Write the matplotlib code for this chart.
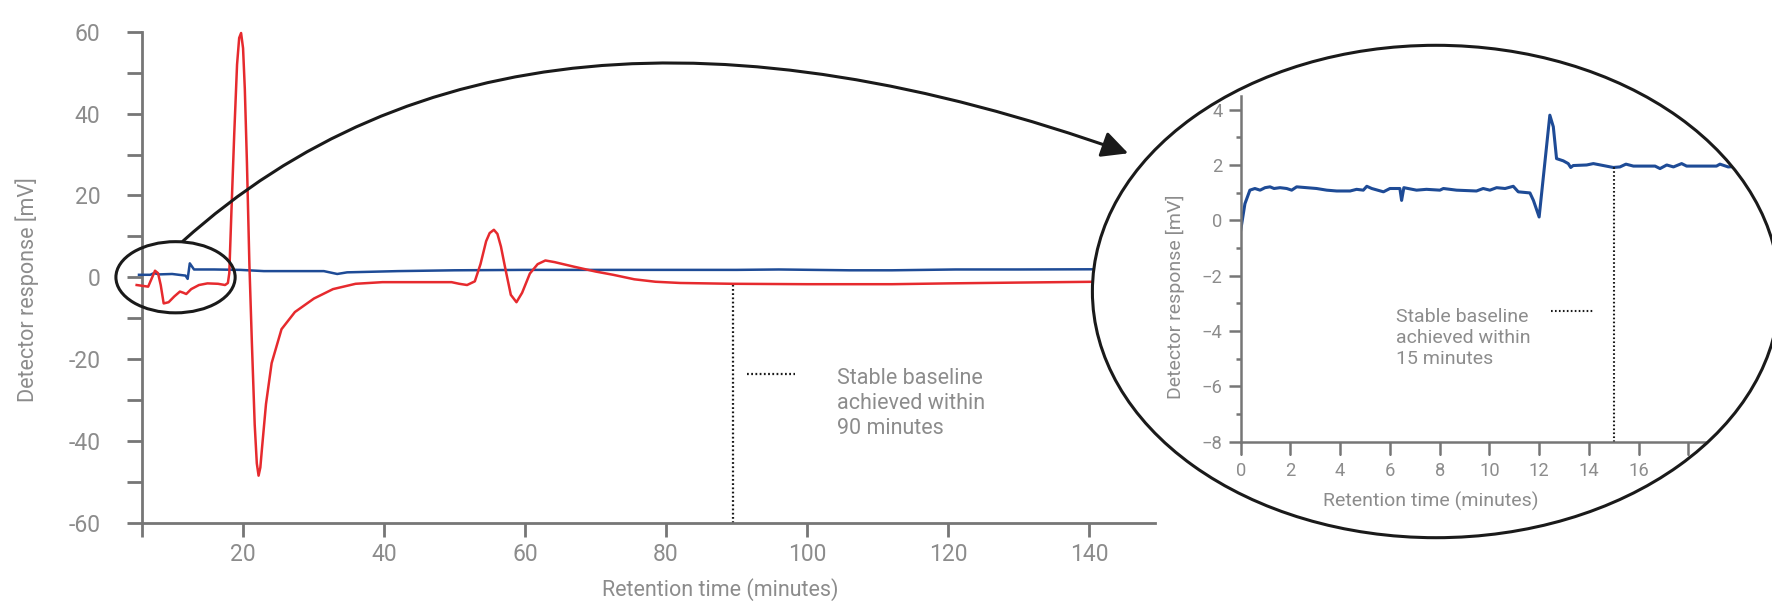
import numpy as np
import matplotlib
matplotlib.use("Agg")
import matplotlib.pyplot as plt
from matplotlib.patches import Ellipse, FancyArrowPatch
from matplotlib.path import Path

plt.rcParams['font.family'] = ['Roboto', 'DejaVu Sans']
plt.rcParams['font.weight'] = 'normal'

# --- DATA ---
# main chromatogram, red trace (retention time [min], response [mV])
red_t = [4.97, 5.8, 6.6, 7.05, 7.57, 8.0, 8.38, 8.8, 9.5, 10.3,
         11.1, 11.6, 12.0, 12.7, 13.8, 15.0, 16.5, 17.5, 17.9, 18.1,
         18.4, 18.8, 19.2, 19.5, 19.77, 20.05, 20.3, 20.6, 20.95, 21.3,
         21.7, 22.0, 22.25, 22.5, 22.75, 23.3, 24.1, 25.5, 27.4, 30.1,
         32.8, 36.0, 39.8, 45.3, 49.6, 50.7, 51.8, 52.9, 53.7, 54.5,
         55.0, 55.6, 56.1, 56.6, 57.2, 58.0, 58.8, 59.6, 60.7, 61.8,
         62.9, 64.2, 66.9, 70.0, 72.5, 75.5, 78.5, 82.0, 89.5, 100.0,
         112.0, 120.0, 130.0, 141.0, 150.0]
red_v = [-1.9, -2.1, -2.3, -0.5, 1.6, 1.0, -1.9, -6.4, -6.1, -4.7,
         -3.5, -3.8, -4.1, -2.9, -1.9, -1.5, -1.6, -1.9, -1.4, 1.0,
         16.0, 35.0, 52.0, 58.5, 59.7, 56.0, 46.0, 28.0, 3.0, -16.0,
         -36.0, -45.5, -48.5, -46.5, -41.5, -31.0, -21.0, -12.7, -8.5, -5.2,
         -2.9, -1.6, -1.2, -1.2, -1.2, -1.6, -1.9, -1.0, 3.2, 8.8,
         10.8, 11.6, 10.6, 7.5, 2.3, -4.3, -6.1, -3.8, 0.9, 3.2,
         4.1, 3.7, 2.6, 1.4, 0.6, -0.5, -1.1, -1.4, -1.6, -1.7,
         -1.7, -1.5, -1.3, -1.1, -1.0]

# main chromatogram, blue trace
blue_t = [5.3, 6.9, 7.4, 8.2, 10.0, 11.9, 12.2, 12.5, 13.1, 16.0,
          19.7, 23.0, 31.5, 33.4, 34.8, 42.0, 50.0, 60.0, 70.0, 80.0,
          90.0, 96.0, 106.0, 112.0, 121.0, 130.0, 141.0, 150.0]
blue_v = [0.6, 0.6, 1.0, 0.7, 0.8, 0.4, -0.4, 3.4, 1.9, 1.9,
          1.8, 1.5, 1.5, 0.8, 1.2, 1.5, 1.7, 1.8, 1.8, 1.8,
          1.8, 1.9, 1.7, 1.7, 1.9, 1.9, 1.95, 1.95]

# zoomed view of the blue trace (first 20 minutes)
inset_t = [0.0, 0.17, 0.37, 0.57, 0.78, 0.98, 1.18, 1.34, 1.58, 1.85,
           2.05, 2.25, 2.65, 3.05, 3.46, 3.86, 4.4, 4.66, 4.93, 5.07,
           5.27, 5.74, 6.0, 6.4, 6.47, 6.56, 7.07, 7.47, 8.01, 8.15,
           8.68, 9.48, 9.75, 10.02, 10.29, 10.63, 10.96, 11.16, 11.63, 11.77,
           12.0, 12.43, 12.57, 12.7, 12.97, 13.17, 13.27, 13.37, 13.91, 14.18,
           14.98, 15.25, 15.49, 15.79, 16.66, 16.86, 17.13, 17.4, 17.73, 17.93,
           19.13, 19.27, 19.6, 20.0]
inset_v = [-0.36, 0.60, 1.09, 1.15, 1.09, 1.18, 1.21, 1.15, 1.18, 1.15,
           1.09, 1.21, 1.18, 1.15, 1.09, 1.06, 1.06, 1.12, 1.09, 1.23,
           1.15, 1.03, 1.15, 1.15, 0.72, 1.18, 1.09, 1.12, 1.09, 1.15,
           1.09, 1.06, 1.15, 1.09, 1.18, 1.15, 1.23, 1.03, 0.99, 0.72,
           0.12, 3.80, 3.38, 2.23, 2.15, 2.05, 1.91, 1.98, 2.00, 2.05,
           1.91, 1.93, 2.03, 1.96, 1.96, 1.87, 2.00, 1.93, 2.05, 1.96,
           1.96, 2.03, 1.93, 1.95]

main_xticks = [20, 40, 60, 80, 100, 120, 140]
main_yticks = list(range(-60, 61, 10))
inset_xticks = list(range(0, 19, 2))
inset_yticks = list(range(-8, 5, 2))
inset_yminor = list(range(-7, 4, 2))

STABLE_MAIN = 89.5    # min
STABLE_INSET = 15.0   # min
XLABEL = "Retention time (minutes)"
YLABEL = "Detector response [mV]"

# --- STYLE ---
RED = '#e62a2e'
BLUE = '#1e4b96'
AXIS = '#767676'
TEXT = '#8c8c8c'
INK = '#1a1a1a'
DOTS = (0, (0.8, 1.1))

W, H = 1772, 601
fig = plt.figure(figsize=(W / 100, H / 100), dpi=100)

# --- MAIN CHART ---
ax = fig.add_axes([142.3 / W, 1 - 522.7 / H, (1155 - 142.3) / W, (522.7 - 31.8) / H])
ax.set_xlim(5.77, 149.3)
ax.set_ylim(-60, 60)
for s in ('top', 'right'):
    ax.spines[s].set_visible(False)
for s in ('left', 'bottom'):
    ax.spines[s].set_color(AXIS)
    ax.spines[s].set_linewidth(2)

ax.set_xticks([5.77] + main_xticks)
ax.set_xticklabels([''] + [str(v) for v in main_xticks])
ax.set_yticks(main_yticks)
ax.set_yticklabels([str(v) if v % 20 == 0 else '' for v in main_yticks])
ax.tick_params(axis='y', length=10.8, width=2, color=AXIS, pad=19.5,
               labelsize=16.5, labelcolor=TEXT)
ax.tick_params(axis='x', length=10, width=2, color=AXIS, pad=4.5,
               labelsize=16.5, labelcolor=TEXT)

ax.plot(blue_t, blue_v, color=BLUE, lw=1.8, clip_on=False, zorder=3)
ax.plot(red_t, red_v, color=RED, lw=1.8, clip_on=False, zorder=4)

red_at_stable = np.interp(STABLE_MAIN, red_t, red_v)
ax.plot([STABLE_MAIN, STABLE_MAIN], [-60, red_at_stable], color=INK, lw=1.6, ls=DOTS)
ax.plot([91.5, 98.3], [-23.6, -23.6], color=INK, lw=1.6, ls=DOTS)
ax.text(104.2, -30.9, "Stable baseline\nachieved within\n90 minutes",
        ha='left', va='center', fontsize=15.5, color=TEXT, linespacing=1.25)

# circle around the start of the run + connector arrow
ax.add_patch(Ellipse((10.48, 0), 16.9, 17.4, fill=False, ec=INK, lw=2.2,
                     clip_on=False, zorder=5))
arc = Path([(11.54, 8.85), (59.4, 83.2), (145.5, 30.3)],
           [Path.MOVETO, Path.CURVE3, Path.CURVE3])
ax.add_patch(FancyArrowPatch(path=arc, arrowstyle='-|>,head_length=0.4,head_width=0.2',
                             mutation_scale=40, color=INK, lw=2.2,
                             clip_on=False, zorder=5))

fig.text(26.8 / W, 1 - 290 / H, YLABEL, rotation=90, ha='center', va='center',
         fontsize=15.5, color=TEXT)
fig.text(720 / W, 1 - 590 / H, XLABEL, ha='center', va='center',
         fontsize=15.5, color=TEXT)

# --- ZOOM BUBBLE ---
bubble = dict(xy=(1436 / W, 1 - 291.5 / H), width=687.2 / W, height=492.4 / H,
              transform=fig.transFigure)
bubble_fill = Ellipse(fc='white', ec='none', zorder=1, **bubble)
fig.add_artist(bubble_fill)

axi = fig.add_axes([1240.7 / W, 1 - 441.7 / H, 497.4 / W, (441.7 - 95.8) / H], zorder=2)
axi.patch.set_visible(False)
axi.set_xlim(0, 20)
axi.set_ylim(-8, 4.5)
for s in ('top', 'right'):
    axi.spines[s].set_visible(False)
for s in ('left', 'bottom'):
    axi.spines[s].set_color(AXIS)
    axi.spines[s].set_linewidth(1.8)
    axi.spines[s].set_clip_path(bubble_fill)

axi.set_xticks(inset_xticks)
axi.set_xticklabels([str(v) if v < 18 else '' for v in inset_xticks])
axi.set_yticks(inset_yticks)
axi.set_yticks(inset_yminor, minor=True)
axi.tick_params(axis='both', which='major', width=1.8, color=AXIS,
                labelsize=13.2, labelcolor=TEXT)
axi.tick_params(axis='y', which='major', length=8.9, pad=4.3)
axi.tick_params(axis='y', which='minor', length=3.6, width=1.8, color=AXIS)
axi.tick_params(axis='x', which='major', length=9.6, pad=5.0)
for tk in axi.xaxis.get_major_ticks():
    tk.tick1line.set_clip_path(bubble_fill)
    tk.label1.set_clip_path(bubble_fill)

ln, = axi.plot(inset_t, inset_v, color=BLUE, lw=2.2)
ln.set_clip_path(bubble_fill)

blue_at_stable = np.interp(STABLE_INSET, inset_t, inset_v)
axi.plot([STABLE_INSET, STABLE_INSET], [-8, blue_at_stable], color=INK, lw=1.5, ls=DOTS)
axi.plot([12.48, 14.21], [-3.26, -3.26], color=INK, lw=1.5, ls=DOTS)
axi.text(6.23, -4.25, "Stable baseline\nachieved within\n15 minutes",
         ha='left', va='center', fontsize=14, color=TEXT, linespacing=1.2)

fig.text(1175.8 / W, 1 - 296.7 / H, YLABEL, rotation=90, ha='center', va='center',
         fontsize=14, color=TEXT, zorder=4)
fig.text(1430.8 / W, 1 - 501 / H, XLABEL, ha='center', va='center',
         fontsize=14, color=TEXT, zorder=4)

fig.add_artist(Ellipse(fill=False, ec=INK, lw=2.2, zorder=3, **bubble))

fig.savefig('out.png', dpi=100)
